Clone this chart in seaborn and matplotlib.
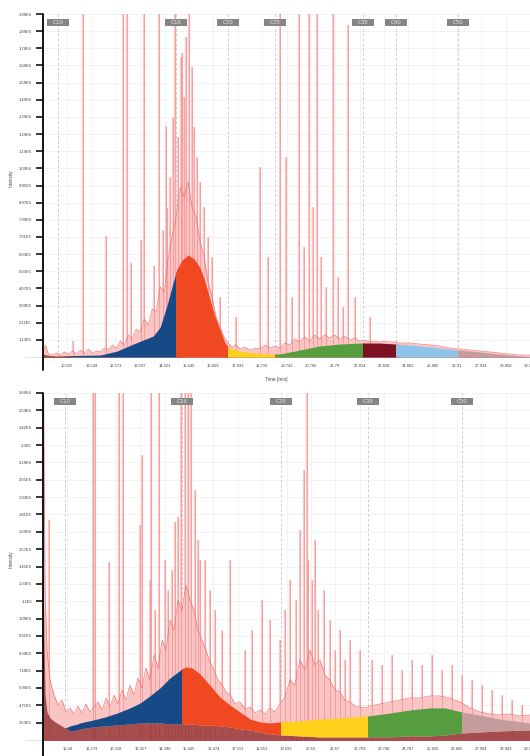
import numpy as np
import pandas as pd
import seaborn as sns
import matplotlib.pyplot as plt
from matplotlib.patches import Rectangle
from matplotlib.transforms import blended_transform_factory

sns.set_style('white')
plt.rcParams['font.family'] = ['Liberation Sans', 'DejaVu Sans']

# ---------------- top chromatogram ----------------
top_env_t = [9.50, 9.60, 9.73, 9.90, 10.07, 10.23, 10.40, 10.57, 10.74, 10.90, 11.07, 11.24, 11.41, 11.58,
             11.74, 11.91, 12.08, 12.25, 12.42, 12.58, 12.75, 12.92, 13.09, 13.25, 13.42, 13.59, 13.76, 13.93,
             14.09, 14.26, 14.43, 14.60, 14.77, 14.93, 15.10, 15.27, 15.44, 15.60, 15.77, 15.94, 16.11, 16.28,
             16.44, 16.61, 16.78, 16.95, 17.11, 17.28, 17.45, 17.62, 17.79, 18.00, 18.21, 18.42, 18.63, 18.84,
             19.05, 19.27, 19.46, 19.67, 19.88, 20.09, 20.30, 20.51, 20.72, 20.93, 21.14, 21.35, 21.56, 21.77,
             21.98, 22.19, 22.40, 22.61, 22.82, 23.03, 23.24, 23.45, 23.66, 23.87, 24.08, 24.29, 24.50, 24.92,
             25.34, 25.76, 26.18, 26.60, 27.02, 27.44, 27.86, 28.28, 28.70, 29.12, 29.54, 29.98]
# intensity in thousands
top_env_k = [38, 84, 32, 26, 38, 26, 44, 32, 49, 32, 55, 38, 61, 38, 49, 44, 66, 55, 84, 66, 106, 84, 141, 118,
             175, 158, 232, 198, 289, 272, 415, 386, 586, 701, 815, 986, 929, 1015, 872, 815, 672, 586, 444,
             358, 244, 186, 129, 95, 72, 84, 61, 72, 55, 66, 61, 84, 66, 78, 66, 95, 84, 118, 101, 129, 106,
             141, 118, 141, 124, 141, 118, 135, 112, 124, 106, 112, 101, 106, 101, 106, 101, 101, 95, 95, 89,
             84, 78, 66, 61, 55, 49, 44, 38, 32, 26, 26]
top_spike_t = [10.78, 11.20, 12.16, 12.88, 13.04, 13.21, 13.63, 13.76, 14.18, 14.39, 14.56, 14.68, 14.72, 14.85,
               14.97, 15.06, 15.18, 15.31, 15.35, 15.44, 15.52, 15.65, 15.77, 15.86, 15.98, 16.11, 16.28, 16.44,
               16.61, 16.95, 17.62, 18.63, 18.96, 19.46, 19.71, 19.96, 20.26, 20.47, 20.68, 20.85, 21.02, 21.18,
               21.39, 21.69, 21.90, 22.11, 22.32, 22.61, 23.24]
top_spike_k = [106, 2600, 706, 2600, 2600, 552, 684, 2600, 535, 2600, 741, 1335, 866, 1044,
               1386, 2600, 1272, 1729, 1752, 1500, 1843, 2600, 1672, 1329, 1158, 1015, 872, 701,
               586, 358, 244, 1101, 586, 2600, 1158, 358, 2600, 644, 2600, 872, 2600, 586,
               415, 2600, 472, 301, 1912, 358, 244]
top_grid_t = [9.50, 9.73, 10.15, 11.07, 11.91, 12.62, 13.30, 13.72, 14.14, 14.43, 14.72, 14.97, 15.14, 15.35,
              15.60, 15.86, 16.11, 16.32, 16.53, 16.74, 16.95, 17.16, 17.32, 17.79, 18.42, 19.05, 19.46, 20.30,
              21.14, 21.98, 22.95, 23.66, 24.33, 25.34, 26.18, 26.93, 27.86, 28.70, 29.32, 29.98]
top_hump_k = [32, 24, 21, 24, 26, 49, 89, 112, 135, 186, 312, 438, 518, 569, 598, 575, 524, 444, 341, 244,
              169, 95, 66, 49, 38, 32, 32, 55, 78, 89, 95, 95, 89, 78, 66, 55, 44, 32, 24, 18]
top_base_k = [32, 24, 20, 15, 15, 15, 15, 15, 15, 15, 15, 15, 15, 15, 15, 15, 15, 15, 15, 15,
              15, 15, 15, 15, 15, 15, 15, 15, 15, 15, 15, 15, 15, 15, 15, 15, 15, 15, 15, 15]
top_marks = ['C10', 'C16', 'C20', 'C25', 'C35', 'C40', 'C50']
top_mark_t = [10.15, 15.10, 17.28, 19.26, 22.95, 24.34, 26.94]
top_xticks = [10.525, 11.549, 12.573, 13.597, 14.621, 15.645, 16.669, 17.693, 18.716, 19.742, 20.766,
              21.79, 22.814, 23.838, 24.862, 25.885, 26.91, 27.934, 28.958, 29.982]
top_xlabels = ['10.525', '11.549', '12.573', '13.597', '14.621', '15.645', '16.669', '17.693', '18.716',
               '19.742', '20.766', '21.79', '22.814', '23.838', '24.862', '25.885', '26.91', '27.934',
               '28.958', '29.982']
top_yticks = [113000, 211000, 309000, 407000, 505000, 603000, 701000, 799000, 897000, 995000, 1093000,
              1191000, 1289000, 1387000, 1485000, 1583000, 1681000, 1779000, 1877000, 1975000]
top_ylabels = ['1.13E5', '2.11E5', '3.09E5', '4.07E5', '5.05E5', '6.03E5', '7.01E5', '7.99E5', '8.97E5',
               '9.95E5', '1.09E6', '1.19E6', '1.29E6', '1.39E6', '1.49E6', '1.58E6', '1.68E6', '1.78E6',
               '1.88E6', '1.98E6']

# ---------------- bottom chromatogram ----------------
bot_env_t = [9.20, 9.24, 9.29, 9.37, 9.50, 9.67, 9.84, 10.01, 10.18, 10.35, 10.52, 10.69, 10.86, 11.03, 11.21,
             11.55, 11.72, 11.89, 12.06, 12.23, 12.40, 12.57, 12.74, 12.91, 13.08, 13.25, 13.42, 13.59, 13.76,
             13.94, 14.11, 14.28, 14.45, 14.62, 14.79, 14.96, 15.13, 15.30, 15.47, 15.64, 15.81, 15.98, 16.15,
             16.32, 16.49, 16.67, 16.84, 17.01, 17.18, 17.39, 17.60, 17.82, 18.03, 18.24, 18.46, 18.67, 18.88,
             19.10, 19.31, 19.52, 19.74, 19.95, 20.16, 20.38, 20.59, 20.80, 21.02, 21.23, 21.44, 21.66, 21.87,
             22.08, 22.30, 22.51, 22.72, 22.94, 23.15, 23.58, 24.00, 24.43, 24.86, 25.28, 25.71, 26.14, 26.56,
             26.99, 27.42, 27.84, 28.27, 28.70, 29.12, 29.55, 29.98]
bot_env_k = [3500, 2332, 1282, 862, 652, 547, 477, 512, 428, 456, 414, 470, 421, 484, 428,
             498, 442, 526, 463, 547, 484, 582, 512, 617, 547, 666, 596, 736, 652,
             827, 736, 932, 862, 1072, 1002, 1212, 1142, 1317, 1212, 1142, 1002, 932, 862,
             778, 722, 652, 617, 568, 547, 484, 498, 449, 463, 421, 442, 414, 456,
             428, 484, 526, 652, 617, 792, 722, 862, 757, 792, 687, 652, 582, 568,
             512, 498, 470, 463, 456, 470, 484, 498, 512, 526, 526, 540, 540, 526,
             498, 456, 428, 414, 407, 414, 400, 407]
bot_spike_t = [9.46, 11.35, 11.44, 12.02, 12.44, 12.61, 13.34, 13.42, 13.76, 13.81, 13.98, 14.15, 14.40, 14.53,
               14.70, 14.83, 14.96, 15.09, 15.26, 15.39, 15.51, 15.68, 15.81, 15.90, 16.11, 16.32, 16.54, 16.84,
               17.18, 17.82, 18.11, 18.54, 18.88, 19.31, 19.52, 19.74, 20.00, 20.16, 20.33, 20.46, 20.51, 20.68,
               20.80, 20.93, 21.19, 21.44, 21.66, 21.87, 22.08, 22.30, 22.72, 23.24, 23.66, 24.09, 24.51, 24.94,
               25.37, 25.79, 26.22, 26.65, 27.07, 27.50, 27.93, 28.35, 28.78, 29.21, 29.63]
bot_spike_k = [1772, 3500, 3500, 1478, 3500, 3500, 1737, 2227, 1352, 3500, 1142, 3500, 1492, 1282,
               1422, 1758, 1793, 3500, 3500, 3500, 3500, 1982, 1632, 1492, 1492, 1282, 1142, 1002,
               1492, 862, 1002, 1212, 1072, 932, 1142, 1352, 1212, 1702, 2122, 3500, 1492, 1352,
               1632, 1142, 1282, 1072, 862, 1002, 792, 932, 862, 792, 757, 827, 722, 792,
               757, 827, 722, 757, 687, 652, 617, 582, 547, 512, 477]
bot_grid_t = [9.20, 9.24, 9.29, 9.37, 9.50, 9.71, 9.93, 10.14, 10.35, 10.69, 10.78, 11.33, 11.84, 12.36, 12.91,
              13.34, 13.76, 14.19, 14.62, 15.13, 15.30, 15.56, 15.90, 16.32, 16.75, 17.18, 17.60, 18.03, 18.46,
              18.88, 19.35, 20.16, 21.02, 21.87, 23.06, 24.00, 24.86, 25.71, 26.35, 27.07, 27.84, 28.70, 29.98]
bot_hump_k = [1490, 932, 547, 428, 386, 358, 337, 316, 330, 344, 351, 371, 392, 420, 456,
              490, 540, 596, 666, 729, 743, 736, 694, 616, 532, 476, 428, 379, 358,
              351, 358, 365, 379, 386, 400, 420, 442, 456, 456, 428, 406, 378, 350]
bot_base_k = [1490, 932, 547, 428, 386, 358, 337, 316, 295, 302, 309, 323, 330, 337, 344,
              351, 351, 351, 344, 344, 344, 344, 337, 337, 330, 323, 309, 302, 288,
              274, 267, 260, 253, 253, 253, 253, 260, 260, 267, 281, 288, 295, 302]
bot_marks = ['C10', 'C16', 'C25', 'C35', 'C50']
bot_mark_t = [10.14, 15.13, 19.35, 23.06, 27.07]
bot_xticks = [10.24, 11.279, 12.318, 13.357, 14.396, 15.435, 16.474, 17.513, 18.553, 19.592, 20.63,
              21.67, 22.709, 23.748, 24.787, 25.826, 26.865, 27.904, 28.943, 29.982]
bot_xlabels = ['10.24', '11.279', '12.318', '13.357', '14.396', '15.435', '16.474', '17.513', '18.553',
               '19.592', '20.63', '21.67', '22.709', '23.748', '24.787', '25.826', '26.865', '27.904',
               '28.943', '29.982']
bot_yticks = [353000, 474500, 596000, 717500, 839000, 960500, 1082000, 1203500, 1325000, 1446500,
              1568000, 1689500, 1811000, 1932500, 2054000, 2175500, 2297000, 2418500, 2540000, 2661500]
bot_ylabels = ['3.53E5', '4.75E5', '5.96E5', '7.18E5', '8.39E5', '9.61E5', '1.08E6', '1.2E6', '1.33E6',
               '1.45E6', '1.57E6', '1.69E6', '1.81E6', '1.93E6', '2.05E6', '2.18E6', '2.3E6', '2.42E6',
               '2.54E6', '2.66E6']

PINK = '#f9c4c4'
RED = '#ee6363'
BASE = '#8b2525'
BLUE, ORANGE, YELLOW, GREEN = '#164a87', '#f04922', '#fdd11b', '#559d3e'
DARKRED, LIGHTBLUE, ROSY = '#7c1124', '#8ec4e9', '#c49c9c'


def draw_panel(ax, env_t, env_k, spk_t, spk_k, grid_t, hump_k, base_k, marks, mark_t, colors,
               xlim, ylim, xticks, xlabels, yticks, ylabels, spine_ext, xlabel):
    env = pd.DataFrame({'t': env_t, 'v': np.array(env_k) * 1e3})
    spk_v = np.array(spk_k) * 1e3
    hump = np.array(hump_k) * 1e3
    base = np.array(base_k) * 1e3

    # raw signal
    ax.fill_between(env['t'], 0, env['v'], color=PINK, lw=0, zorder=2)
    ax.vlines(spk_t, 0, spk_v, colors=PINK, lw=1.6, alpha=0.9, zorder=2)
    sns.lineplot(data=env, x='t', y='v', ax=ax, color=RED, lw=0.5, alpha=0.8, zorder=3)
    ax.vlines(spk_t, 0, spk_v, colors=RED, lw=0.5, alpha=0.55, zorder=3)

    # baseline hump and carbon-range areas
    ax.fill_between(grid_t, 0, base, color=BASE, alpha=0.75, lw=0, zorder=4)
    bounds = list(mark_t) + [xlim[1] + 0.1]
    for i, col in enumerate(colors):
        poly = ax.fill_between(grid_t, base, hump, color=col, lw=0, zorder=4 + i * 0.01)
        w = bounds[i + 1] - bounds[i] + (0.03 if i < len(colors) - 1 else 0)
        clip = Rectangle((bounds[i], -1e7), w, 1e8, transform=ax.transData)
        poly.set_clip_path(clip)

    # carbon markers
    blend = blended_transform_factory(ax.transData, ax.transAxes)
    for name, t in zip(marks, mark_t):
        ax.axvline(t, color='#cfcfcf', ls=(0, (3, 2)), lw=0.7, zorder=1)
        ax.add_patch(Rectangle((t - 0.46, 0.965), 0.92, 0.021, transform=blend,
                               fc='#858585', ec='none', zorder=6, clip_on=False))
        ax.text(t, 0.9755, name, transform=blend, ha='center', va='center',
                fontsize=4.2, color='#e4e4e4', zorder=7)

    ax.set_xlim(*xlim)
    ax.set_ylim(*ylim)
    ax.set_xticks(xticks)
    ax.set_xticklabels(xlabels, fontsize=3, color='#444444')
    ax.set_yticks(yticks)
    ax.set_yticklabels(ylabels, fontsize=3, color='#444444')
    ax.tick_params(axis='x', length=0, pad=5)
    ax.tick_params(axis='y', length=5, width=1.1, color='black', pad=3, left=True)
    ax.grid(True, color='#efefef', lw=0.5)
    ax.set_axisbelow(True)
    for s in ax.spines.values():
        s.set_visible(False)
    ax.plot([0, 0], [spine_ext, 1], transform=ax.transAxes, color='black', lw=1.3,
            clip_on=False, zorder=8)
    ax.plot([-0.037, 1], [0, 0], transform=ax.transAxes, color='#e2e2e2', lw=0.8,
            clip_on=False, zorder=1)
    ax.set_ylabel('Intensity', fontsize=3.3, color='#444444')
    ax.yaxis.set_label_coords(-0.06, 0.522)
    ax.set_xlabel(xlabel, fontsize=3.4, color='#444444')
    ax.xaxis.set_label_coords(0.478, -0.058)


fig = plt.figure(figsize=(5.3, 7.56), dpi=100)
ax1 = fig.add_axes([43 / 530, 1 - 357 / 756, 487 / 530, 343 / 756])
ax2 = fig.add_axes([43 / 530, 1 - 740 / 756, 487 / 530, 347 / 756])

draw_panel(ax1, top_env_t, top_env_k, top_spike_t, top_spike_k, top_grid_t, top_hump_k, top_base_k,
           top_marks, top_mark_t, [BLUE, ORANGE, YELLOW, GREEN, DARKRED, LIGHTBLUE, ROSY],
           (9.501, 29.982), (15000, 1975000), top_xticks, top_xlabels, top_yticks, top_ylabels,
           -0.038, 'Time [min]')
# the lower panel's axis title falls below the bottom edge of the picture
draw_panel(ax2, bot_env_t, bot_env_k, bot_spike_t, bot_spike_k, bot_grid_t, bot_hump_k, bot_base_k,
           bot_marks, bot_mark_t, [BLUE, ORANGE, YELLOW, GREEN, ROSY],
           (9.2, 29.982), (231500, 2661500), bot_xticks, bot_xlabels, bot_yticks, bot_ylabels,
           -0.046, '')

fig.savefig('out.png', dpi=100)
